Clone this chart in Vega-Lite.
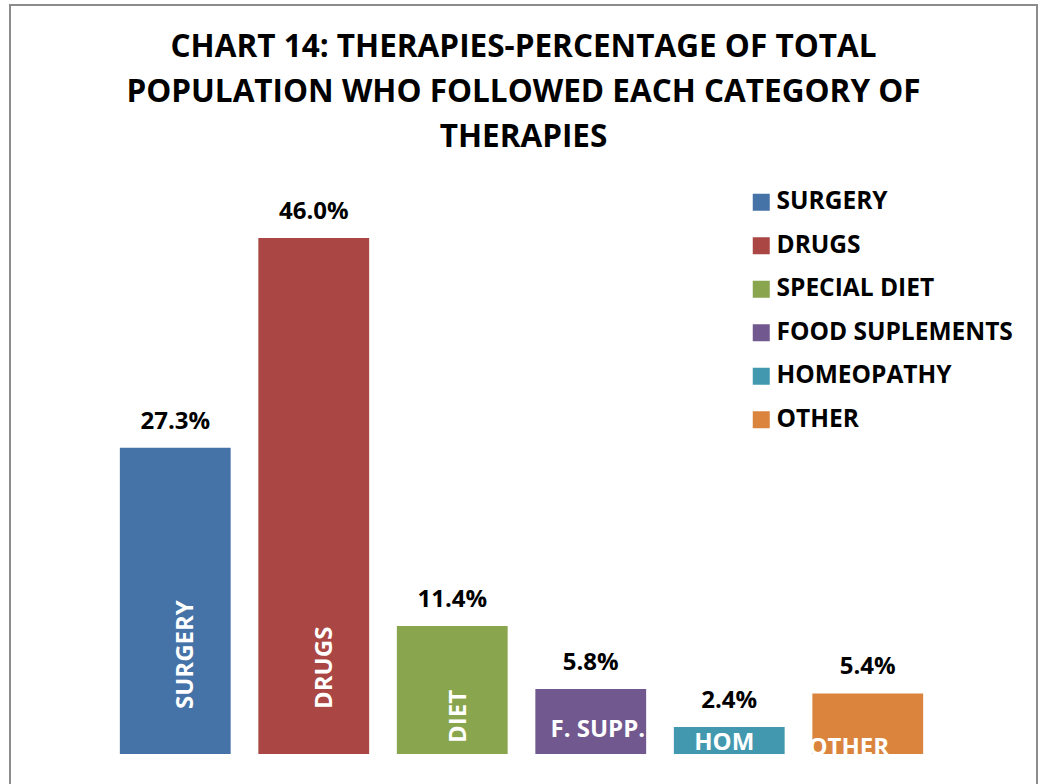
{
  "$schema": "https://vega.github.io/schema/vega-lite/v6.json",
  "width": 1027,
  "height": 782,
  "autosize": {"type": "none"},
  "padding": {"left": 10, "top": 5, "right": 4, "bottom": 0},
  "background": "white",
  "config": {"font": "Open Sans", "view": {"stroke": "#8c8c8c", "strokeWidth": 2}},
  "title": {
    "text": ["CHART 14: THERAPIES-PERCENTAGE OF TOTAL", "POPULATION WHO FOLLOWED EACH CATEGORY OF", "THERAPIES"],
    "fontSize": 31.5, "fontWeight": "bold", "font": "Open Sans", "color": "black",
    "anchor": "middle", "frame": "group", "orient": "top", "baseline": "top",
    "offset": -148, "lineHeight": 45
  },
  "data": {"values": [
    {"cat": "SURGERY", "short": "SURGERY", "pct": 27.3},
    {"cat": "DRUGS", "short": "DRUGS", "pct": 46.0},
    {"cat": "SPECIAL DIET", "short": "DIET", "pct": 11.4},
    {"cat": "FOOD SUPLEMENTS", "short": "F. SUPP.", "pct": 5.8},
    {"cat": "HOMEOPATHY", "short": "HOM", "pct": 2.4},
    {"cat": "OTHER", "short": "OTHER", "pct": 5.4}
  ]},
  "transform": [{"calculate": "format(datum.pct, '.1f') + '%'", "as": "label"}],
  "encoding": {
    "x": {"field": "cat", "type": "nominal", "sort": null,
      "scale": {"domain": ["SURGERY", "DRUGS", "SPECIAL DIET", "FOOD SUPLEMENTS", "HOMEOPATHY", "OTHER"], "range": [96, 927], "paddingInner": 0.2, "paddingOuter": 0.1},
      "axis": null},
    "y": {"field": "pct", "type": "quantitative", "scale": {"domain": [0, 50], "range": [749, 188]}, "axis": null}
  },
  "layer": [
    {
      "mark": {"type": "bar"},
      "encoding": {
        "color": {"field": "cat", "type": "nominal", "sort": null,
          "scale": {"domain": ["SURGERY", "DRUGS", "SPECIAL DIET", "FOOD SUPLEMENTS", "HOMEOPATHY", "OTHER"],
                    "range": ["#4572A7", "#AA4643", "#89A54E", "#71588F", "#4198AF", "#DB843D"]},
          "legend": {"orient": "none", "legendX": 739, "legendY": 185, "title": null,
            "symbolType": "square", "symbolSize": 289, "symbolStrokeWidth": 0,
            "labelFontSize": 24.5, "labelFont": "Open Sans", "labelFontWeight": "bold", "labelColor": "black",
            "labelOffset": 3, "rowPadding": 18.5, "padding": 0, "labelLimit": 400}}
      }
    },
    {
      "mark": {"type": "text", "fontSize": 24, "fontWeight": "bold", "dy": -19, "baseline": "alphabetic", "color": "black"},
      "encoding": {"text": {"field": "label"}}
    },
    {
      "transform": [{"filter": "datum.cat === 'SURGERY' || datum.cat === 'DRUGS'"}],
      "mark": {"type": "text", "fontSize": 24, "fontWeight": "bold", "color": "white", "angle": 270, "align": "left", "baseline": "alphabetic", "dx": 45, "dy": 18},
      "encoding": {"y": {"datum": 0}, "text": {"field": "short"}}
    },
    {
      "transform": [{"filter": "datum.cat === 'SPECIAL DIET'"}],
      "mark": {"type": "text", "fontSize": 24, "fontWeight": "bold", "color": "white", "angle": 270, "align": "left", "baseline": "alphabetic", "dx": 11, "dy": 14},
      "encoding": {"y": {"datum": 0}, "text": {"field": "short"}}
    },
    {
      "transform": [{"filter": "datum.cat === 'FOOD SUPLEMENTS'"}],
      "mark": {"type": "text", "fontSize": 24, "fontWeight": "bold", "color": "white", "align": "center", "baseline": "alphabetic", "dx": 7, "dy": -17},
      "encoding": {"y": {"datum": 0}, "text": {"field": "short"}}
    },
    {
      "transform": [{"filter": "datum.cat === 'HOMEOPATHY'"}],
      "mark": {"type": "text", "fontSize": 24, "fontWeight": "bold", "color": "white", "align": "center", "baseline": "alphabetic", "dx": -5, "dy": -4},
      "encoding": {"y": {"datum": 0}, "text": {"field": "short"}}
    },
    {
      "transform": [{"filter": "datum.cat === 'OTHER'"}],
      "mark": {"type": "text", "fontSize": 24, "fontWeight": "bold", "color": "white", "align": "center", "baseline": "alphabetic", "dx": -19, "dy": 1},
      "encoding": {"y": {"datum": 0}, "text": {"field": "short"}}
    }
  ]
}
